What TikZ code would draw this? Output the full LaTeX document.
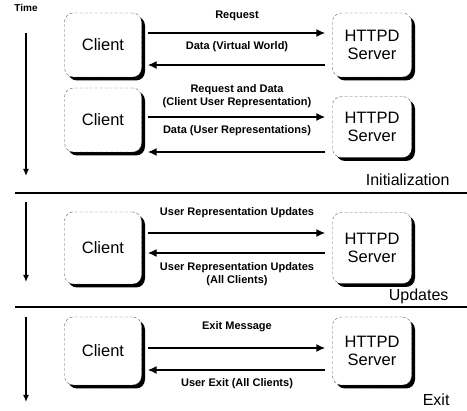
\documentclass[tikz,border=0pt]{standalone}
\usepackage{fontspec}
\setmainfont{Liberation Sans}
\usetikzlibrary{arrows.meta,shadows}

\begin{document}
\begin{tikzpicture}[x=1pt,y=-1pt,
  box/.style={draw=black!60,densely dashed,thin,rounded corners=9pt,fill=white,
    font=\fontsize{16.5}{18}\selectfont,align=center,minimum width=77pt,
    drop shadow={opacity=1,fill=black,shadow xshift=3.5pt,shadow yshift=-3.5pt}},
  msg/.style={line width=1.6pt,-{Latex[length=9pt,width=8pt]}},
  lbl/.style={font=\fontsize{11}{13}\selectfont\bfseries,align=center},
  sect/.style={font=\fontsize{16}{17}\selectfont,anchor=east},
  timeline/.style={line width=1.3pt,-{Latex[length=7pt,width=6pt]}}]
\useasboundingbox (0,0) rectangle (467,411);
\node[font=\fontsize{10}{11}\selectfont\bfseries] (time) at (26,8) {Time};
% initialization
\node[box,minimum height=64pt] (c1) at (103,45) {Client};
\node[box,minimum width=79pt,minimum height=64pt] (s1) at (372,45) {HTTPD\\Server};
\node[box,minimum height=64pt] (c2) at (103,120) {Client};
\node[box,minimum width=79pt,minimum height=61pt] (s2) at (372,127) {HTTPD\\Server};
\draw[msg] ([xshift=6pt]c1.east |- 0,33) -- ([xshift=-7pt]s1.west |- 0,33);
\draw[msg] ([xshift=-7pt]s1.west |- 0,65) -- ([xshift=6pt]c1.east |- 0,65);
\node[lbl] (l1) at (237,16) {Request};
\node[lbl] (l2) at (237,47) {Data (Virtual World)};
\draw[msg] ([xshift=6pt]c2.east |- 0,117) -- ([xshift=-7pt]s2.west |- 0,117);
\draw[msg] ([xshift=-7pt]s2.west |- 0,152) -- ([xshift=6pt]c2.east |- 0,152);
\node[lbl] (l3) at (237,96) {Request and Data\\(Client User Representation)};
\node[lbl] (l4) at (237,131) {Data (User Representations)};
\coordinate (t1a) at (26,33); \coordinate (t1b) at (26,176);
\draw[timeline] (t1a) -- (t1b);
\node[sect] (init) at (453,180) {Initialization};
\coordinate (h1a) at (15,193); \coordinate (h1b) at (467,193);
\draw[line width=1.2pt] (h1a) -- (h1b);
% updates
\node[box,minimum height=72pt] (c3) at (103,248) {Client};
\node[box,minimum width=79pt,minimum height=71pt] (s3) at (372,248) {HTTPD\\Server};
\draw[msg] ([xshift=6pt]c3.east |- 0,233) -- ([xshift=-7pt]s3.west |- 0,233);
\draw[msg] ([xshift=-7pt]s3.west |- 0,253) -- ([xshift=6pt]c3.east |- 0,253);
\node[lbl] (l5) at (237,213) {User Representation Updates};
\node[lbl] (l6) at (237,274) {User Representation Updates\\(All Clients)};
\coordinate (t2a) at (26,202); \coordinate (t2b) at (26,282);
\draw[timeline] (t2a) -- (t2b);
\node[sect] (upd) at (452,296) {Updates};
\coordinate (h2a) at (15,307); \coordinate (h2b) at (467,307);
\draw[line width=1.2pt] (h2a) -- (h2b);
% exit
\node[box,minimum height=68pt] (c4) at (103,351) {Client};
\node[box,minimum width=79pt,minimum height=68pt] (s4) at (372,351) {HTTPD\\Server};
\draw[msg] ([xshift=6pt]c4.east |- 0,348) -- ([xshift=-7pt]s4.west |- 0,348);
\draw[msg] ([xshift=-7pt]s4.west |- 0,370) -- ([xshift=6pt]c4.east |- 0,370);
\node[lbl] (l7) at (237,327) {Exit Message};
\node[lbl] (l8) at (237,384) {User Exit (All Clients)};
\coordinate (t3a) at (26,317); \coordinate (t3b) at (26,402);
\draw[timeline] (t3a) -- (t3b);
\node[sect] (ext) at (453,400) {Exit};
\end{tikzpicture}
\end{document}
